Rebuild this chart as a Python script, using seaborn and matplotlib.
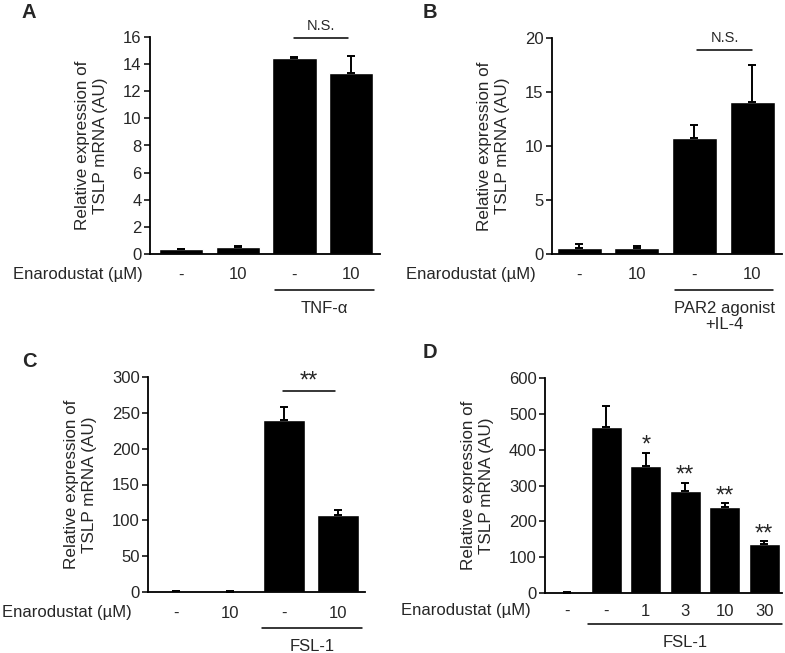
import numpy as np
import seaborn as sns
import matplotlib.pyplot as plt
import matplotlib.transforms as mtrans

# --- data

a_labels = ["-", "10", "-", "10"]
a_vals = [0.35, 0.5, 14.45, 13.35]
a_err = [0.05, 0.08, 0.05, 1.25]

b_labels = ["-", "10", "-", "10"]
b_vals = [0.6, 0.55, 10.75, 14.1]
b_err = [0.35, 0.15, 1.2, 3.4]

c_labels = ["-", "10", "-", "10"]
c_vals = [1.0, 0.5, 240, 107]
c_err = [0.5, 0.3, 18, 7]

d_labels = ["-", "-", "1", "3", "10", "30"]
d_vals = [1.0, 464, 354, 286, 239, 138]
d_err = [0.5, 59, 38, 22, 11, 6]
d_stars = ["", "", "*", "**", "**", "**"]

sns.set_style("ticks")
plt.rcParams['font.family'] = ['Liberation Sans', 'DejaVu Sans']

fig = plt.figure(figsize=(7.85, 6.53), dpi=100)
W, H = 785, 653
FS = 12


def add_ax(l, r, top, bot):
    return fig.add_axes([l / W, 1 - bot / H, (r - l) / W, (bot - top) / H])


def panel(ax, vals, err, labels, xlim, ylim, yticks, tick_off, line_off, grp_x, grp_text, gap):
    n = len(vals)
    pos = np.arange(n)
    sns.barplot(x=pos, y=vals, color="black", width=0.78, saturation=1,
                errorbar=None, ax=ax)
    ax.errorbar(pos, vals, yerr=[np.zeros(n), err], fmt="none", ecolor="black",
                elinewidth=1.4, capsize=3, capthick=1.4, clip_on=False)
    ax.set_xlim(*xlim)
    ax.set_ylim(*ylim)
    ax.set_yticks(yticks)
    ax.tick_params(axis="y", labelsize=FS, length=4, width=1.1, pad=2, color="black")
    ax.tick_params(axis="x", length=0, labelbottom=False)
    for s in ["top", "right"]:
        ax.spines[s].set_visible(False)
    for s in ["left", "bottom"]:
        ax.spines[s].set_linewidth(1.3)
        ax.spines[s].set_color("black")
    ax.set_ylabel("Relative expression of\nTSLP mRNA (AU)", fontsize=12.3,
                  linespacing=1.25, labelpad=11)
    for p, lab in zip(pos, labels):
        ax.annotate(lab, (p, 0), xycoords=("data", "axes fraction"),
                    xytext=(0, -tick_off), textcoords="offset pixels",
                    ha="center", va="center", fontsize=FS)
    ax.annotate("Enarodustat (\u00b5M)", (0, 0), xycoords="axes fraction",
                xytext=(-gap, -tick_off), textcoords="offset pixels",
                ha="right", va="center", fontsize=FS)
    tr = mtrans.offset_copy(ax.get_xaxis_transform(), fig=fig, y=-line_off, units="dots")
    ax.plot(grp_x, [0, 0], color="black", lw=1.1, transform=tr, clip_on=False)
    ax.annotate(grp_text, ((grp_x[0] + grp_x[1]) / 2, 0),
                xycoords=("data", "axes fraction"),
                xytext=(0, -line_off - 11), textcoords="offset pixels",
                ha="center", va="top", fontsize=FS, linespacing=1.1)


def sig_line(ax, x0, x1, y, text, fs, dy):
    ax.plot([x0, x1], [y, y], color="black", lw=1.1, clip_on=False)
    ax.annotate(text, ((x0 + x1) / 2, y), xytext=(0, dy), textcoords="offset pixels",
                ha="center", va="bottom", fontsize=fs)


# A
ax_a = add_ax(150, 380, 37, 254)
panel(ax_a, a_vals, a_err, a_labels, (-0.55, 3.51), (0, 16), np.arange(0, 17, 2),
      21, 36, [1.66, 3.4], "TNF-\u03b1", 7)
sig_line(ax_a, 2.0, 2.95, 15.95, "N.S.", 10.5, 5)

# B
ax_b = add_ax(552, 782, 38, 254)
panel(ax_b, b_vals, b_err, b_labels, (-0.47, 3.52), (0, 20), np.arange(0, 21, 5),
      21, 36, [1.66, 3.37], "PAR2 agonist\n+IL-4", 16)
sig_line(ax_b, 2.05, 3.0, 18.9, "N.S.", 10.5, 5)

# C
ax_c = add_ax(148, 365, 377, 592)
panel(ax_c, c_vals, c_err, c_labels, (-0.52, 3.5), (0, 300), np.arange(0, 301, 50),
      21, 36, [1.6, 3.45], "FSL-1", 16)
sig_line(ax_c, 1.98, 2.94, 280.5, "**", 17, -2)

# D
ax_d = add_ax(545, 782, 378, 593)
panel(ax_d, d_vals, d_err, d_labels, (-0.55, 5.45), (0, 600), np.arange(0, 601, 100),
      18, 31, [0.55, 5.45], "FSL-1", 14)
for i, s in enumerate(d_stars):
    if s:
        ax_d.annotate(s, (i, d_vals[i] + d_err[i]), xytext=(0, -4),
                      textcoords="offset pixels", ha="center", va="bottom", fontsize=17)

# panel letters
for lab, x, y in [("A", 22, 18), ("B", 423, 18), ("C", 22, 367), ("D", 423, 358)]:
    fig.text(x / W, 1 - y / H, lab, fontsize=14.5, fontweight="bold", ha="left", va="baseline")

fig.savefig("out.png", dpi=100)
